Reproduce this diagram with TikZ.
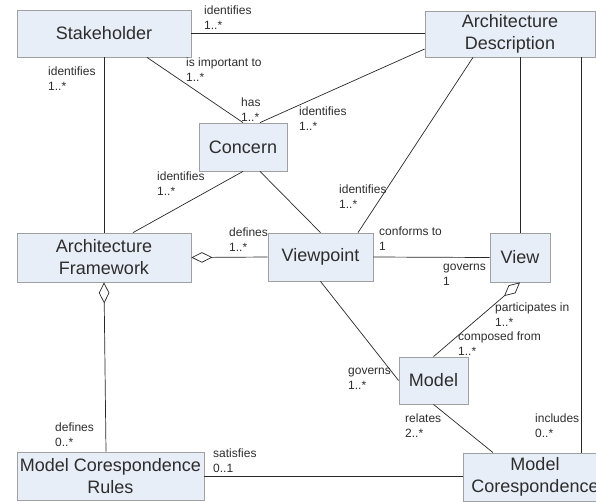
\documentclass[tikz,border=0pt]{standalone}
\usepackage{fontspec}
\setmainfont{Liberation Sans}
\usetikzlibrary{arrows.meta}
\definecolor{boxfill}{RGB}{232,238,247}
\definecolor{boxline}{RGB}{160,160,160}
\definecolor{txtclr}{RGB}{45,45,45}
\definecolor{lineclr}{RGB}{40,40,40}
\begin{document}
\begin{tikzpicture}[x=1pt,y=-1pt,
  umlbox/.style={draw=boxline, fill=boxfill, text=txtclr, font=\fontsize{18}{22}\selectfont, align=center, inner sep=0pt, line width=0.8pt},
  lbl/.style={anchor=base west, inner sep=0pt, font=\fontsize{12}{15}\selectfont, text=txtclr, align=left},
  link/.style={draw=lineclr, line width=0.7pt},
  agg/.style={arrows={{Diamond[open,length=21pt,width=10.5pt]}-}}]
\useasboundingbox (0,0) rectangle (596,501);
\clip (0,0) rectangle (596,501);
% boxes
\node[umlbox, minimum width=174pt, minimum height=47pt] (stake) at (104,33.5) {Stakeholder};
\node[umlbox, minimum width=170pt, minimum height=46pt] (ad) at (510,34) {Architecture\\Description};
\node[umlbox, minimum width=88pt, minimum height=48pt] (conc) at (243,147) {Concern};
\node[umlbox, minimum width=174pt, minimum height=49pt] (af) at (104,257.5) {Architecture\\Framework};
\node[umlbox, minimum width=105pt, minimum height=48pt] (vp) at (320.5,257) {Viewpoint};
\node[umlbox, minimum width=60pt, minimum height=49pt] (view) at (520,257.5) {View};
\node[umlbox, minimum width=69pt, minimum height=47pt] (model) at (433.5,380.5) {Model};
\node[umlbox, minimum width=187pt, minimum height=48pt] (mcr) at (110.5,476) {Model Corespondence\\Rules};
\node[umlbox, minimum width=144pt, minimum height=48pt] (mc) at (535,477) {Model\\Corespondence};
% connectors
\draw[link] (stake.east) -- (stake.east -| ad.west);
\draw[link] (stake.south) -- (af.north);
\draw[link] ([xshift=43pt]stake.south) -- (conc.north);
\draw[link] ([xshift=17pt]conc.north) -- ([yshift=-15pt]ad.west);
\draw[link] ([xshift=-37pt]ad.south) -- ([xshift=37.5pt]vp.north);
\draw[link] (ad.south -| view.north) -- (view.north);
\draw[link] ([xshift=71pt]ad.south) coordinate (adr) -- (adr |- mc.north);
\draw[link] (conc.south) -- ([xshift=29pt]af.north);
\draw[link] ([xshift=17pt]conc.south) -- (vp.north);
\draw[link, agg] (af.east) -- (vp.west);
\draw[link] (vp.east) -- (view.west);
\draw[link] (vp.south) -- (model.west);
\draw[link, agg] (view.south) -- (model.north);
\draw[link] (model.south) -- ([xshift=-42pt]mc.north);
\draw[link] (mcr.east) -- (mcr.east -| mc.west);
\draw[link, agg] (af.south) -- ([xshift=-4.5pt]mcr.north);
% labels (anchor = baseline of second line)
\node[lbl] (l1) at (204,29) {identifies\\1..*};
\node[lbl] (l2) at (48,90) {identifies\\1..*};
\node[lbl] (l3) at (186,81) {is important to\\1..*};
\node[lbl] (l4) at (241,121) {has\\1..*};
\node[lbl] (l5) at (299,130) {identifies\\1..*};
\node[lbl] (l6) at (157,195) {identifies\\1..*};
\node[lbl] (l7) at (339,208) {identifies\\1..*};
\node[lbl] (l8) at (229,251) {defines\\1..*};
\node[lbl] (l9) at (379,250) {conforms to\\1};
\node[lbl] (l10) at (443,285) {governs\\1};
\node[lbl] (l11) at (495,326) {participates in\\1..*};
\node[lbl] (l12) at (458,355) {composed from\\1..*};
\node[lbl] (l13) at (348,389) {governs\\1..*};
\node[lbl] (l14) at (405,437) {relates\\2..*};
\node[lbl] (l15) at (535,437) {includes\\0..*};
\node[lbl] (l16) at (55,446) {defines\\0..*};
\node[lbl] (l17) at (213,472) {satisfies\\0..1};
\end{tikzpicture}
\end{document}
